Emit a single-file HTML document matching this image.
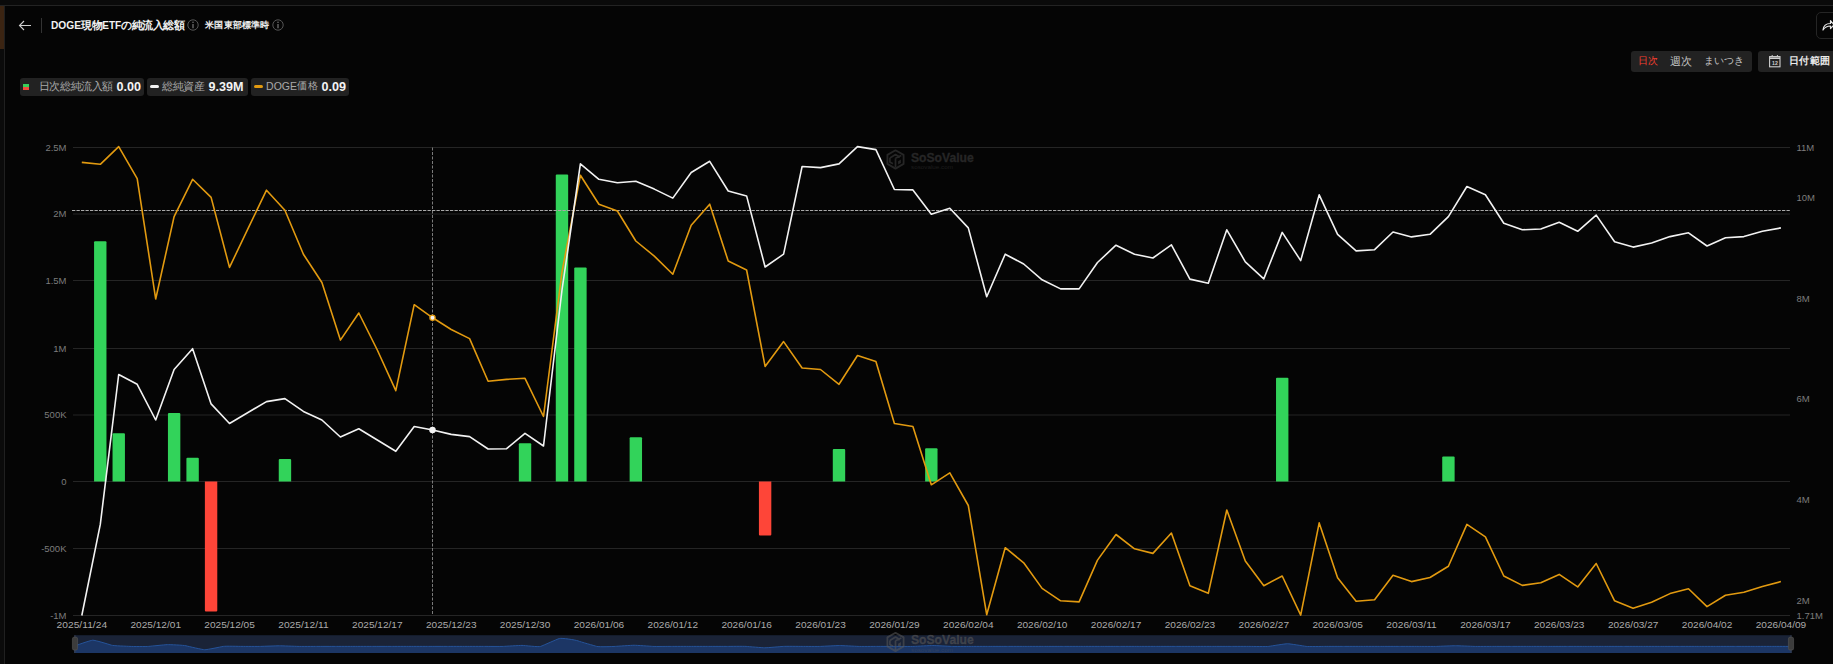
<!DOCTYPE html>
<html><head><meta charset="utf-8">
<style>
*{margin:0;padding:0;box-sizing:border-box}
html,body{width:1833px;height:664px;overflow:hidden;background:#050505;font-family:"Liberation Sans",sans-serif}
.abs{position:absolute}
svg text{font-family:"Liberation Sans",sans-serif}
.ax{font-size:9.5px;fill:#7c7c7c}
.dt{font-size:9.8px;fill:#ababab}
.t{position:absolute;line-height:14px;white-space:nowrap;color:#f2f2f2}
.b{font-weight:bold}
.lab{color:#a9a9a9}
.val{color:#f4f4f4;font-weight:bold;font-size:12.6px}
</style></head><body>
<div class="abs" style="left:0;top:0;width:1833px;height:5px;background:#0a0a0a"></div>
<div class="abs" style="left:0;top:5px;width:1833px;height:1px;background:#232323"></div>
<div class="abs" style="left:0;top:6px;width:4px;height:658px;background:#0b0b0b"></div>
<div class="abs" style="left:0;top:6px;width:4px;height:43px;background:#3b2412"></div>
<div class="abs" style="left:4px;top:6px;width:1px;height:658px;background:#202020"></div>
<!-- header -->
<svg class="abs" style="left:17px;top:19px" width="16" height="13" viewBox="0 0 16 13"><path d="M14 6.5 H2.5 M7 2 L2.5 6.5 L7 11" fill="none" stroke="#cfcfcf" stroke-width="1.1"/></svg>
<div class="abs" style="left:41px;top:18px;width:1px;height:15px;background:#333"></div>
<div class="t b" style="left:51px;top:19px;font-size:10.2px">DOGE</div>
<div class="t b" style="left:81px;top:17.7px;font-size:11px;letter-spacing:-0.35px">現物</div>
<div class="t b" style="left:102.3px;top:19px;font-size:10px">ETF</div>
<div class="t b" style="left:121.1px;top:17.7px;font-size:11px;letter-spacing:-0.5px">の純流入総額</div>
<svg class="abs" style="left:187px;top:19px" width="12" height="12" viewBox="0 0 12 12"><circle cx="6" cy="6" r="5.2" fill="none" stroke="#555" stroke-width="1"/><path d="M6 5 V9.2" stroke="#777" stroke-width="1.2"/><circle cx="6" cy="3.3" r="0.75" fill="#777"/></svg>
<div class="t b" style="left:205.2px;top:17.5px;font-size:9.2px;letter-spacing:0.2px;color:#eee">米国東部標準時</div>
<svg class="abs" style="left:272px;top:19px" width="12" height="12" viewBox="0 0 12 12"><circle cx="6" cy="6" r="5.2" fill="none" stroke="#555" stroke-width="1"/><path d="M6 5 V9.2" stroke="#777" stroke-width="1.2"/><circle cx="6" cy="3.3" r="0.75" fill="#777"/></svg>
<!-- share -->
<div class="abs" style="left:1816px;top:12px;width:30px;height:27px;border:1px solid #252525;border-radius:5px"></div>
<svg class="abs" style="left:1822px;top:18px" width="12" height="14" viewBox="0 0 12 14"><path d="M1 12 C1.5 7 5 5.5 8.5 5.5 V2.5 L12 7 L8.5 10.5 V8 C5.5 8 3 9 1 12 Z" fill="none" stroke="#e6e6e6" stroke-width="1.2" stroke-linejoin="round"/></svg>
<!-- period toggle -->
<div class="abs" style="left:1631px;top:51px;width:121px;height:21px;background:#222;border-radius:3px"></div>
<div class="t" style="left:1638px;top:54px;font-size:10.15px;color:#fa3f2f">日次</div>
<div class="t" style="left:1670px;top:54px;font-size:10.5px;letter-spacing:-0.5px;color:#c4c4c4">週次</div>
<div class="t" style="left:1704.3px;top:54px;font-size:10.1px;color:#c4c4c4">まいつき</div>
<div class="abs" style="left:1758px;top:51px;width:90px;height:21px;background:#222;border-radius:3px"></div>
<svg class="abs" style="left:1769px;top:54px" width="12" height="14" viewBox="0 0 12 14"><rect x="0.6" y="2.6" width="10.4" height="10.2" fill="none" stroke="#cfcfcf" stroke-width="1.1"/><path d="M0.6 4.2 H11" stroke="#cfcfcf" stroke-width="1.6"/><path d="M3.2 1 V2.6 M8.4 1 V2.6" stroke="#cfcfcf" stroke-width="1"/><text x="5.9" y="10.9" font-size="5.2" font-weight="bold" fill="#cfcfcf" text-anchor="middle" font-family="Liberation Sans, sans-serif">12</text></svg>
<div class="t b" style="left:1788.9px;top:54.3px;font-size:10px;letter-spacing:0.45px;color:#eaeaea">日付範囲</div>
<!-- legend -->
<div class="abs" style="left:20px;top:78px;width:124px;height:17.5px;background:#222;border-radius:3px"></div>
<div class="abs" style="left:23px;top:84px;width:6px;height:3px;background:#35d05a"></div>
<div class="abs" style="left:23px;top:87px;width:6px;height:3px;background:#f24a3c"></div>
<div class="t lab" style="left:38.8px;top:78.8px;font-size:11px;letter-spacing:-0.4px">日次総純流入額</div>
<div class="t val" style="left:116.5px;top:79.5px">0.00</div>
<div class="abs" style="left:147px;top:78px;width:101px;height:17.5px;background:#222;border-radius:3px"></div>
<div class="abs" style="left:150px;top:85px;width:9px;height:3px;background:#f2f2f2;border-radius:2px"></div>
<div class="t lab" style="left:162.2px;top:78.8px;font-size:11px;letter-spacing:-0.35px">総純資産</div>
<div class="t val" style="left:208.4px;top:79.5px">9.39M</div>
<div class="abs" style="left:251px;top:78px;width:98px;height:17.5px;background:#222;border-radius:3px"></div>
<div class="abs" style="left:254px;top:85px;width:9px;height:3px;background:#e29a10;border-radius:2px"></div>
<div class="t lab" style="left:266.1px;top:78.8px;font-size:10.5px">DOGE</div>
<div class="t lab" style="left:297.2px;top:78.8px;font-size:10.35px;letter-spacing:0.35px">価格</div>
<div class="t val" style="left:321.5px;top:79.5px">0.09</div>
<svg class="abs" style="left:0;top:0" width="1833" height="664" viewBox="0 0 1833 664">
<line x1="73" y1="147.5" x2="1790" y2="147.5" stroke="#252525" stroke-width="1"/>
<line x1="73" y1="214.0" x2="1790" y2="214.0" stroke="#252525" stroke-width="1"/>
<line x1="73" y1="280.5" x2="1790" y2="280.5" stroke="#252525" stroke-width="1"/>
<line x1="73" y1="348.5" x2="1790" y2="348.5" stroke="#252525" stroke-width="1"/>
<line x1="73" y1="415.0" x2="1790" y2="415.0" stroke="#252525" stroke-width="1"/>
<line x1="73" y1="481.5" x2="1790" y2="481.5" stroke="#252525" stroke-width="1"/>
<line x1="73" y1="548.5" x2="1790" y2="548.5" stroke="#252525" stroke-width="1"/>
<line x1="73" y1="615.5" x2="1790" y2="615.5" stroke="#252525" stroke-width="1"/>
<text x="66.5" y="150.8" text-anchor="end" class="ax">2.5M</text>
<text x="66.5" y="217.3" text-anchor="end" class="ax">2M</text>
<text x="66.5" y="283.8" text-anchor="end" class="ax">1.5M</text>
<text x="66.5" y="351.8" text-anchor="end" class="ax">1M</text>
<text x="66.5" y="418.3" text-anchor="end" class="ax">500K</text>
<text x="66.5" y="484.8" text-anchor="end" class="ax">0</text>
<text x="66.5" y="551.8" text-anchor="end" class="ax">-500K</text>
<text x="66.5" y="618.8" text-anchor="end" class="ax">-1M</text>
<text x="1796.5" y="150.60000000000002" class="ax">11M</text>
<text x="1796.5" y="201.10000000000002" class="ax">10M</text>
<text x="1796.5" y="301.6" class="ax">8M</text>
<text x="1796.5" y="402.3" class="ax">6M</text>
<text x="1796.5" y="503.2" class="ax">4M</text>
<text x="1796.5" y="604.0999999999999" class="ax">2M</text>
<text x="1796.5" y="619.1999999999999" class="ax">1.71M</text>
<text x="56.6" y="628.4" class="dt" textLength="50.5" lengthAdjust="spacingAndGlyphs">2025/11/24</text>
<text x="130.5" y="628.4" class="dt" textLength="50.5" lengthAdjust="spacingAndGlyphs">2025/12/01</text>
<text x="204.3" y="628.4" class="dt" textLength="50.5" lengthAdjust="spacingAndGlyphs">2025/12/05</text>
<text x="278.2" y="628.4" class="dt" textLength="50.5" lengthAdjust="spacingAndGlyphs">2025/12/11</text>
<text x="352.1" y="628.4" class="dt" textLength="50.5" lengthAdjust="spacingAndGlyphs">2025/12/17</text>
<text x="426.0" y="628.4" class="dt" textLength="50.5" lengthAdjust="spacingAndGlyphs">2025/12/23</text>
<text x="499.8" y="628.4" class="dt" textLength="50.5" lengthAdjust="spacingAndGlyphs">2025/12/30</text>
<text x="573.7" y="628.4" class="dt" textLength="50.5" lengthAdjust="spacingAndGlyphs">2026/01/06</text>
<text x="647.6" y="628.4" class="dt" textLength="50.5" lengthAdjust="spacingAndGlyphs">2026/01/12</text>
<text x="721.4" y="628.4" class="dt" textLength="50.5" lengthAdjust="spacingAndGlyphs">2026/01/16</text>
<text x="795.3" y="628.4" class="dt" textLength="50.5" lengthAdjust="spacingAndGlyphs">2026/01/23</text>
<text x="869.2" y="628.4" class="dt" textLength="50.5" lengthAdjust="spacingAndGlyphs">2026/01/29</text>
<text x="943.1" y="628.4" class="dt" textLength="50.5" lengthAdjust="spacingAndGlyphs">2026/02/04</text>
<text x="1016.9" y="628.4" class="dt" textLength="50.5" lengthAdjust="spacingAndGlyphs">2026/02/10</text>
<text x="1090.8" y="628.4" class="dt" textLength="50.5" lengthAdjust="spacingAndGlyphs">2026/02/17</text>
<text x="1164.7" y="628.4" class="dt" textLength="50.5" lengthAdjust="spacingAndGlyphs">2026/02/23</text>
<text x="1238.6" y="628.4" class="dt" textLength="50.5" lengthAdjust="spacingAndGlyphs">2026/02/27</text>
<text x="1312.4" y="628.4" class="dt" textLength="50.5" lengthAdjust="spacingAndGlyphs">2026/03/05</text>
<text x="1386.3" y="628.4" class="dt" textLength="50.5" lengthAdjust="spacingAndGlyphs">2026/03/11</text>
<text x="1460.2" y="628.4" class="dt" textLength="50.5" lengthAdjust="spacingAndGlyphs">2026/03/17</text>
<text x="1534.0" y="628.4" class="dt" textLength="50.5" lengthAdjust="spacingAndGlyphs">2026/03/23</text>
<text x="1607.9" y="628.4" class="dt" textLength="50.5" lengthAdjust="spacingAndGlyphs">2026/03/27</text>
<text x="1681.8" y="628.4" class="dt" textLength="50.5" lengthAdjust="spacingAndGlyphs">2026/04/02</text>
<text x="1755.7" y="628.4" class="dt" textLength="50.5" lengthAdjust="spacingAndGlyphs">2026/04/09</text>
<g transform="translate(887.3,149)"><path d="M8.2 1.3 L16.3 5.9 L16.3 14.9 L8.2 19.6 L0.1 14.9 L0.1 5.9 Z" fill="none" stroke="#262626" stroke-width="1.8" stroke-linejoin="round"/><path d="M2.6 9 L8.2 5.6 L12.6 8.2 M2.6 9 V13 L5.6 14.8 M8.2 9.3 V18.5 M8.2 9.3 L14 6.5" fill="none" stroke="#262626" stroke-width="1.7" stroke-linejoin="round"/><path d="M10.8 12.2 L13.6 10.6 L13.6 14 L10.8 15.6 Z" fill="#262626"/><text x="23.7" y="12.8" font-size="13.6" font-weight="bold" fill="#262626" stroke="#262626" stroke-width="0.35" textLength="62.8" lengthAdjust="spacingAndGlyphs" font-family="Liberation Sans, sans-serif">SoSoValue</text><text x="23.7" y="20" font-size="5.8" fill="#1e1e1e" textLength="42" lengthAdjust="spacingAndGlyphs" font-family="Liberation Sans, sans-serif">sosovalue.com</text></g>
<path d="M94.07 481.5 V242.15 Q94.07 241.15 95.07 241.15 H105.47 Q106.47 241.15 106.47 242.15 V481.5 Z" fill="#32d35a"/>
<path d="M112.54 481.5 V434.14 Q112.54 433.14 113.54 433.14 H123.94 Q124.94 433.14 124.94 434.14 V481.5 Z" fill="#32d35a"/>
<path d="M167.94 481.5 V414.10 Q167.94 413.10 168.94 413.10 H179.34 Q180.34 413.10 180.34 414.10 V481.5 Z" fill="#32d35a"/>
<path d="M186.41 481.5 V458.85 Q186.41 457.85 187.41 457.85 H197.81 Q198.81 457.85 198.81 458.85 V481.5 Z" fill="#32d35a"/>
<path d="M204.88 481.5 V610.49 Q204.88 611.49 205.88 611.49 H216.28 Q217.28 611.49 217.28 610.49 V481.5 Z" fill="#fe4538"/>
<path d="M278.75 481.5 V460.06 Q278.75 459.06 279.75 459.06 H290.15 Q291.15 459.06 291.15 460.06 V481.5 Z" fill="#32d35a"/>
<path d="M518.83 481.5 V444.16 Q518.83 443.16 519.83 443.16 H530.23 Q531.23 443.16 531.23 444.16 V481.5 Z" fill="#32d35a"/>
<path d="M555.77 481.5 V175.62 Q555.77 174.62 556.77 174.62 H567.17 Q568.17 174.62 568.17 175.62 V481.5 Z" fill="#32d35a"/>
<path d="M574.24 481.5 V268.61 Q574.24 267.61 575.24 267.61 H585.64 Q586.64 267.61 586.64 268.61 V481.5 Z" fill="#32d35a"/>
<path d="M629.64 481.5 V438.14 Q629.64 437.14 630.64 437.14 H641.04 Q642.04 437.14 642.04 438.14 V481.5 Z" fill="#32d35a"/>
<path d="M758.92 481.5 V534.47 Q758.92 535.47 759.92 535.47 H770.32 Q771.32 535.47 771.32 534.47 V481.5 Z" fill="#fe4538"/>
<path d="M832.79 481.5 V449.90 Q832.79 448.90 833.79 448.90 H844.19 Q845.19 448.90 845.19 449.90 V481.5 Z" fill="#32d35a"/>
<path d="M925.13 481.5 V449.23 Q925.13 448.23 926.13 448.23 H936.53 Q937.53 448.23 937.53 449.23 V481.5 Z" fill="#32d35a"/>
<path d="M1276.02 481.5 V378.69 Q1276.02 377.69 1277.02 377.69 H1287.42 Q1288.42 377.69 1288.42 378.69 V481.5 Z" fill="#32d35a"/>
<path d="M1442.23 481.5 V457.38 Q1442.23 456.38 1443.23 456.38 H1453.63 Q1454.63 456.38 1454.63 457.38 V481.5 Z" fill="#32d35a"/>
<line x1="432.5" y1="147.5" x2="432.5" y2="615.5" stroke="#7a7a7a" stroke-width="1" stroke-dasharray="3 1.5"/>
<line x1="72" y1="210.5" x2="1790" y2="210.5" stroke="#a8a8a8" stroke-width="1" stroke-dasharray="3.3 1.2"/>
<polyline points="81.8,162.4 100.3,164.3 118.7,146.6 137.2,178.6 155.7,299.0 174.1,216.6 192.6,179.3 211.1,197.4 229.5,267.4 248.0,228.6 266.5,190.2 284.9,210.2 303.4,254.2 321.9,282.5 340.4,340.1 358.8,313.0 377.3,350.0 395.8,390.7 414.2,304.7 432.7,317.8 451.2,329.5 469.6,338.6 488.1,381.3 506.6,379.4 525.0,378.3 543.5,416.5 562.0,272.0 580.4,175.2 598.9,204.2 617.4,211.0 635.8,241.0 654.3,256.1 672.8,274.2 691.2,225.3 709.7,204.2 728.2,261.0 746.6,270.0 765.1,366.4 783.6,341.6 802.1,368.0 820.5,369.5 839.0,384.3 857.5,355.5 875.9,361.5 894.4,423.5 912.9,426.5 931.3,484.8 949.8,472.8 968.3,505.5 986.7,614.7 1005.2,547.7 1023.7,562.8 1042.1,588.4 1060.6,600.8 1079.1,601.9 1097.5,560.1 1116.0,534.5 1134.5,548.8 1152.9,553.4 1171.4,533.0 1189.9,585.7 1208.3,593.3 1226.8,510.0 1245.3,560.9 1263.8,585.7 1282.2,576.0 1300.7,615.1 1319.2,522.9 1337.6,577.8 1356.1,601.2 1374.6,599.7 1393.0,575.2 1411.5,581.6 1430.0,577.5 1448.4,566.2 1466.9,524.4 1485.4,536.8 1503.8,576.0 1522.3,585.4 1540.8,582.7 1559.2,574.4 1577.7,586.9 1596.2,563.5 1614.6,600.8 1633.1,608.3 1651.6,602.3 1670.0,593.6 1688.5,588.7 1707.0,606.6 1725.5,595.2 1743.9,592.3 1762.4,586.5 1780.9,581.6" fill="none" stroke="#e29a10" stroke-width="1.6" stroke-linejoin="round"/>
<polyline points="81.8,615.5 100.3,524.4 118.7,374.5 137.2,384.3 155.7,420.0 174.1,369.5 192.6,348.7 211.1,403.9 229.5,423.5 248.0,412.5 266.5,401.6 284.9,398.6 303.4,411.4 321.9,420.0 340.4,437.0 358.8,428.7 377.3,440.0 395.8,451.3 414.2,426.5 432.7,430.0 451.2,434.4 469.6,436.6 488.1,449.0 506.6,448.7 525.0,433.3 543.5,446.0 562.0,290.0 580.4,163.9 598.9,179.3 617.4,182.7 635.8,181.2 654.3,189.1 672.8,198.1 691.2,172.5 709.7,161.3 728.2,191.0 746.6,195.9 765.1,267.0 783.6,254.2 802.1,166.5 820.5,167.6 839.0,163.9 857.5,146.6 875.9,149.6 894.4,189.5 912.9,189.9 931.3,214.3 949.8,208.3 968.3,227.9 986.7,296.8 1005.2,254.2 1023.7,264.0 1042.1,279.8 1060.6,288.9 1079.1,288.9 1097.5,262.5 1116.0,245.2 1134.5,254.2 1152.9,258.0 1171.4,244.8 1189.9,279.1 1208.3,283.2 1226.8,229.8 1245.3,261.8 1263.8,278.9 1282.2,232.4 1300.7,260.6 1319.2,194.8 1337.6,234.3 1356.1,250.9 1374.6,249.7 1393.0,232.0 1411.5,236.9 1430.0,234.3 1448.4,216.6 1466.9,186.5 1485.4,194.8 1503.8,223.2 1522.3,229.8 1540.8,229.0 1559.2,222.2 1577.7,231.3 1596.2,215.1 1614.6,241.8 1633.1,247.1 1651.6,243.0 1670.0,236.6 1688.5,232.8 1707.0,246.0 1725.5,237.7 1743.9,236.6 1762.4,231.3 1780.9,227.9" fill="none" stroke="#f2f2f2" stroke-width="1.6" stroke-linejoin="round"/>
<circle cx="432.5" cy="317.8" r="2.6" fill="#f3f3f3" stroke="#e29a10" stroke-width="1.3"/>
<circle cx="432.5" cy="430" r="2.6" fill="#f3f3f3" stroke="#f3f3f3" stroke-width="1.3"/>
<rect x="74" y="635.2" width="1717.5" height="17.799999999999955" fill="#1a2337"/>
<path d="M74.0 646.40 C75.1 645.66 90.4 640.36 92.7 640.21 C94.9 640.06 109.1 644.41 111.3 645.15 C113.6 645.90 127.8 646.25 130.0 646.40 C132.2 646.55 146.4 646.61 148.7 646.40 C150.9 646.19 165.1 644.71 167.3 644.64 C169.6 644.57 183.8 645.18 186.0 645.79 C188.3 646.40 202.4 649.67 204.7 649.75 C206.9 649.82 221.1 646.80 223.3 646.40 C225.6 646.00 239.8 646.40 242.0 646.40 C244.3 646.40 258.4 646.47 260.7 646.40 C262.9 646.33 277.1 645.82 279.4 645.82 C281.6 645.82 295.8 646.33 298.0 646.40 C300.3 646.47 314.5 646.40 316.7 646.40 C318.9 646.40 333.1 646.40 335.4 646.40 C337.6 646.40 351.8 646.40 354.0 646.40 C356.3 646.40 370.5 646.40 372.7 646.40 C374.9 646.40 389.1 646.40 391.4 646.40 C393.6 646.40 407.8 646.40 410.0 646.40 C412.3 646.40 426.5 646.40 428.7 646.40 C430.9 646.40 445.1 646.40 447.4 646.40 C449.6 646.40 463.8 646.40 466.0 646.40 C468.3 646.40 482.5 646.40 484.7 646.40 C486.9 646.40 501.1 646.52 503.4 646.40 C505.6 646.28 519.8 645.41 522.0 645.41 C524.3 645.41 538.5 647.23 540.7 646.40 C543.0 645.57 557.1 639.16 559.4 638.50 C561.6 637.84 575.8 639.94 578.0 640.89 C580.3 641.84 594.5 645.74 596.7 646.40 C599.0 647.06 613.1 646.54 615.4 646.40 C617.6 646.26 631.8 645.26 634.1 645.26 C636.3 645.26 650.5 646.26 652.7 646.40 C655.0 646.54 669.2 646.40 671.4 646.40 C673.6 646.40 687.8 646.40 690.1 646.40 C692.3 646.40 706.5 646.40 708.7 646.40 C711.0 646.40 725.2 646.40 727.4 646.40 C729.6 646.40 743.8 646.23 746.1 646.40 C748.3 646.57 762.5 647.79 764.7 647.79 C767.0 647.79 781.2 646.57 783.4 646.40 C785.6 646.23 799.8 646.40 802.1 646.40 C804.3 646.40 818.5 646.50 820.7 646.40 C823.0 646.30 837.2 645.56 839.4 645.56 C841.6 645.56 855.8 646.30 858.1 646.40 C860.3 646.50 874.5 646.40 876.7 646.40 C879.0 646.40 893.2 646.40 895.4 646.40 C897.7 646.40 911.8 646.50 914.1 646.40 C916.3 646.30 930.5 645.54 932.8 645.54 C935.0 645.54 949.2 646.30 951.4 646.40 C953.7 646.50 967.8 646.40 970.1 646.40 C972.3 646.40 986.5 646.40 988.8 646.40 C991.0 646.40 1005.2 646.40 1007.4 646.40 C1009.7 646.40 1023.9 646.40 1026.1 646.40 C1028.3 646.40 1042.5 646.40 1044.8 646.40 C1047.0 646.40 1061.2 646.40 1063.4 646.40 C1065.7 646.40 1079.9 646.40 1082.1 646.40 C1084.3 646.40 1098.5 646.40 1100.8 646.40 C1103.0 646.40 1117.2 646.40 1119.4 646.40 C1121.7 646.40 1135.9 646.40 1138.1 646.40 C1140.3 646.40 1154.5 646.40 1156.8 646.40 C1159.0 646.40 1173.2 646.40 1175.4 646.40 C1177.7 646.40 1191.9 646.40 1194.1 646.40 C1196.3 646.40 1210.5 646.40 1212.8 646.40 C1215.0 646.40 1229.2 646.40 1231.4 646.40 C1233.7 646.40 1247.9 646.40 1250.1 646.40 C1252.4 646.40 1266.5 646.72 1268.8 646.40 C1271.0 646.08 1285.2 643.73 1287.5 643.73 C1289.7 643.73 1303.9 646.08 1306.1 646.40 C1308.4 646.72 1322.5 646.40 1324.8 646.40 C1327.0 646.40 1341.2 646.40 1343.5 646.40 C1345.7 646.40 1359.9 646.40 1362.1 646.40 C1364.4 646.40 1378.6 646.40 1380.8 646.40 C1383.0 646.40 1397.2 646.40 1399.5 646.40 C1401.7 646.40 1415.9 646.40 1418.1 646.40 C1420.4 646.40 1434.6 646.48 1436.8 646.40 C1439.0 646.32 1453.2 645.75 1455.5 645.75 C1457.7 645.75 1471.9 646.32 1474.1 646.40 C1476.4 646.48 1490.6 646.40 1492.8 646.40 C1495.0 646.40 1509.2 646.40 1511.5 646.40 C1513.7 646.40 1527.9 646.40 1530.1 646.40 C1532.4 646.40 1546.6 646.40 1548.8 646.40 C1551.1 646.40 1565.2 646.40 1567.5 646.40 C1569.7 646.40 1583.9 646.40 1586.1 646.40 C1588.4 646.40 1602.6 646.40 1604.8 646.40 C1607.1 646.40 1621.2 646.40 1623.5 646.40 C1625.7 646.40 1639.9 646.40 1642.2 646.40 C1644.4 646.40 1658.6 646.40 1660.8 646.40 C1663.1 646.40 1677.2 646.40 1679.5 646.40 C1681.7 646.40 1695.9 646.40 1698.2 646.40 C1700.4 646.40 1714.6 646.40 1716.8 646.40 C1719.1 646.40 1733.3 646.40 1735.5 646.40 C1737.7 646.40 1751.9 646.40 1754.2 646.40 C1756.4 646.40 1770.6 646.40 1772.8 646.40 C1775.1 646.40 1790.4 646.40 1791.5 646.40 L1791.5 653 L74 653 Z" fill="#1c3665"/>
<path d="M74.0 646.40 C75.1 645.66 90.4 640.36 92.7 640.21 C94.9 640.06 109.1 644.41 111.3 645.15 C113.6 645.90 127.8 646.25 130.0 646.40 C132.2 646.55 146.4 646.61 148.7 646.40 C150.9 646.19 165.1 644.71 167.3 644.64 C169.6 644.57 183.8 645.18 186.0 645.79 C188.3 646.40 202.4 649.67 204.7 649.75 C206.9 649.82 221.1 646.80 223.3 646.40 C225.6 646.00 239.8 646.40 242.0 646.40 C244.3 646.40 258.4 646.47 260.7 646.40 C262.9 646.33 277.1 645.82 279.4 645.82 C281.6 645.82 295.8 646.33 298.0 646.40 C300.3 646.47 314.5 646.40 316.7 646.40 C318.9 646.40 333.1 646.40 335.4 646.40 C337.6 646.40 351.8 646.40 354.0 646.40 C356.3 646.40 370.5 646.40 372.7 646.40 C374.9 646.40 389.1 646.40 391.4 646.40 C393.6 646.40 407.8 646.40 410.0 646.40 C412.3 646.40 426.5 646.40 428.7 646.40 C430.9 646.40 445.1 646.40 447.4 646.40 C449.6 646.40 463.8 646.40 466.0 646.40 C468.3 646.40 482.5 646.40 484.7 646.40 C486.9 646.40 501.1 646.52 503.4 646.40 C505.6 646.28 519.8 645.41 522.0 645.41 C524.3 645.41 538.5 647.23 540.7 646.40 C543.0 645.57 557.1 639.16 559.4 638.50 C561.6 637.84 575.8 639.94 578.0 640.89 C580.3 641.84 594.5 645.74 596.7 646.40 C599.0 647.06 613.1 646.54 615.4 646.40 C617.6 646.26 631.8 645.26 634.1 645.26 C636.3 645.26 650.5 646.26 652.7 646.40 C655.0 646.54 669.2 646.40 671.4 646.40 C673.6 646.40 687.8 646.40 690.1 646.40 C692.3 646.40 706.5 646.40 708.7 646.40 C711.0 646.40 725.2 646.40 727.4 646.40 C729.6 646.40 743.8 646.23 746.1 646.40 C748.3 646.57 762.5 647.79 764.7 647.79 C767.0 647.79 781.2 646.57 783.4 646.40 C785.6 646.23 799.8 646.40 802.1 646.40 C804.3 646.40 818.5 646.50 820.7 646.40 C823.0 646.30 837.2 645.56 839.4 645.56 C841.6 645.56 855.8 646.30 858.1 646.40 C860.3 646.50 874.5 646.40 876.7 646.40 C879.0 646.40 893.2 646.40 895.4 646.40 C897.7 646.40 911.8 646.50 914.1 646.40 C916.3 646.30 930.5 645.54 932.8 645.54 C935.0 645.54 949.2 646.30 951.4 646.40 C953.7 646.50 967.8 646.40 970.1 646.40 C972.3 646.40 986.5 646.40 988.8 646.40 C991.0 646.40 1005.2 646.40 1007.4 646.40 C1009.7 646.40 1023.9 646.40 1026.1 646.40 C1028.3 646.40 1042.5 646.40 1044.8 646.40 C1047.0 646.40 1061.2 646.40 1063.4 646.40 C1065.7 646.40 1079.9 646.40 1082.1 646.40 C1084.3 646.40 1098.5 646.40 1100.8 646.40 C1103.0 646.40 1117.2 646.40 1119.4 646.40 C1121.7 646.40 1135.9 646.40 1138.1 646.40 C1140.3 646.40 1154.5 646.40 1156.8 646.40 C1159.0 646.40 1173.2 646.40 1175.4 646.40 C1177.7 646.40 1191.9 646.40 1194.1 646.40 C1196.3 646.40 1210.5 646.40 1212.8 646.40 C1215.0 646.40 1229.2 646.40 1231.4 646.40 C1233.7 646.40 1247.9 646.40 1250.1 646.40 C1252.4 646.40 1266.5 646.72 1268.8 646.40 C1271.0 646.08 1285.2 643.73 1287.5 643.73 C1289.7 643.73 1303.9 646.08 1306.1 646.40 C1308.4 646.72 1322.5 646.40 1324.8 646.40 C1327.0 646.40 1341.2 646.40 1343.5 646.40 C1345.7 646.40 1359.9 646.40 1362.1 646.40 C1364.4 646.40 1378.6 646.40 1380.8 646.40 C1383.0 646.40 1397.2 646.40 1399.5 646.40 C1401.7 646.40 1415.9 646.40 1418.1 646.40 C1420.4 646.40 1434.6 646.48 1436.8 646.40 C1439.0 646.32 1453.2 645.75 1455.5 645.75 C1457.7 645.75 1471.9 646.32 1474.1 646.40 C1476.4 646.48 1490.6 646.40 1492.8 646.40 C1495.0 646.40 1509.2 646.40 1511.5 646.40 C1513.7 646.40 1527.9 646.40 1530.1 646.40 C1532.4 646.40 1546.6 646.40 1548.8 646.40 C1551.1 646.40 1565.2 646.40 1567.5 646.40 C1569.7 646.40 1583.9 646.40 1586.1 646.40 C1588.4 646.40 1602.6 646.40 1604.8 646.40 C1607.1 646.40 1621.2 646.40 1623.5 646.40 C1625.7 646.40 1639.9 646.40 1642.2 646.40 C1644.4 646.40 1658.6 646.40 1660.8 646.40 C1663.1 646.40 1677.2 646.40 1679.5 646.40 C1681.7 646.40 1695.9 646.40 1698.2 646.40 C1700.4 646.40 1714.6 646.40 1716.8 646.40 C1719.1 646.40 1733.3 646.40 1735.5 646.40 C1737.7 646.40 1751.9 646.40 1754.2 646.40 C1756.4 646.40 1770.6 646.40 1772.8 646.40 C1775.1 646.40 1790.4 646.40 1791.5 646.40" fill="none" stroke="#25539a" stroke-width="1"/>
<g transform="translate(887.3,631.5)"><path d="M8.2 1.3 L16.3 5.9 L16.3 14.9 L8.2 19.6 L0.1 14.9 L0.1 5.9 Z" fill="none" stroke="rgba(90,90,90,0.55)" stroke-width="1.8" stroke-linejoin="round"/><path d="M2.6 9 L8.2 5.6 L12.6 8.2 M2.6 9 V13 L5.6 14.8 M8.2 9.3 V18.5 M8.2 9.3 L14 6.5" fill="none" stroke="rgba(90,90,90,0.55)" stroke-width="1.7" stroke-linejoin="round"/><path d="M10.8 12.2 L13.6 10.6 L13.6 14 L10.8 15.6 Z" fill="rgba(90,90,90,0.55)"/><text x="23.7" y="12.8" font-size="13.6" font-weight="bold" fill="rgba(90,90,90,0.55)" stroke="rgba(90,90,90,0.55)" stroke-width="0.35" textLength="62.8" lengthAdjust="spacingAndGlyphs" font-family="Liberation Sans, sans-serif">SoSoValue</text><text x="23.7" y="20" font-size="5.8" fill="rgba(90,90,90,0.35)" textLength="42" lengthAdjust="spacingAndGlyphs" font-family="Liberation Sans, sans-serif">sosovalue.com</text></g>
<line x1="75" y1="635.2" x2="75" y2="653" stroke="#3a3f4a" stroke-width="1"/>
<rect x="72.4" y="637.2" width="5.2" height="12.8" rx="1.6" fill="#3c3c3c" stroke="#555" stroke-width="0.6"/>
<line x1="1791.0" y1="635.2" x2="1791.0" y2="653" stroke="#3a3f4a" stroke-width="1"/>
<rect x="1788.4" y="637.2" width="5.2" height="12.8" rx="1.6" fill="#3c3c3c" stroke="#555" stroke-width="0.6"/>
</svg>
</body></html>
